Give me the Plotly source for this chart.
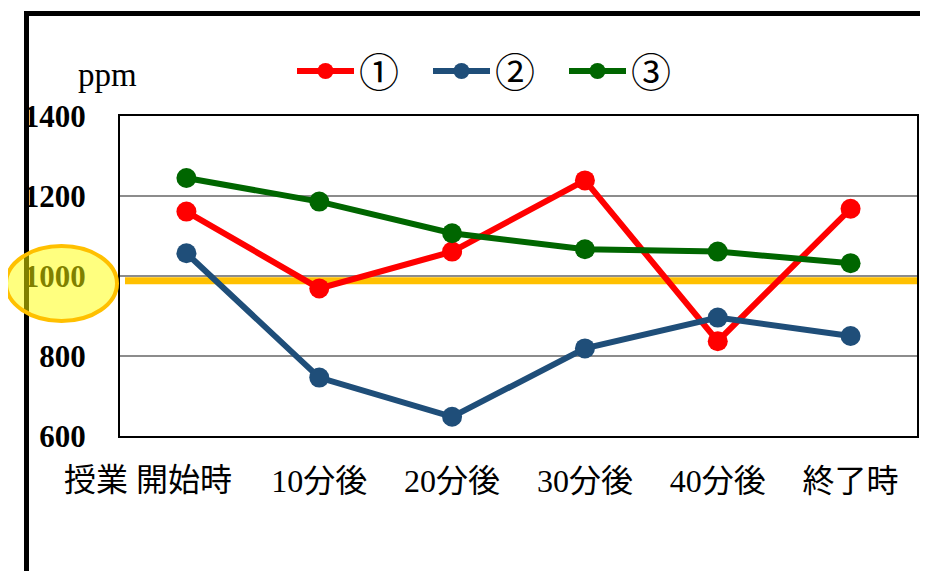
import plotly.graph_objects as go

categories = ["授業 開始時", "10分後", "20分後", "30分後", "40分後", "終了時"]
tick_labels = ["授業 開始時", "10分後", "20分後", "30分後", "40分後", "終了時"]
series_names = ["①", "②", "③"]
series1 = [1161, 969, 1061, 1239, 837, 1168]
series2 = [1057, 746, 648, 819, 896, 850]
series3 = [1245, 1186, 1107, 1067, 1061, 1032]
colors = ["#FF0000", "#1F4E79", "#006600"]
y_ticks = [600, 800, 1000, 1200, 1400]
threshold = 988

OFF = 8  # default page body margin
W, H = 928 - OFF, 571 - OFF
L, R, T, B = 120 - OFF, 11, 116 - OFF, 135
PW, PH = W - L - R, H - T - B

def px(xs):
    # screen x -> paper x
    return (xs - OFF - L) / PW

def py(ys):
    # screen y -> paper y
    return 1 - (ys - OFF - T) / PH

fig = go.Figure()
for name, vals, col in zip(series_names, [series1, series2, series3], colors):
    fig.add_trace(go.Scatter(
        x=categories, y=vals, name=name, mode="lines+markers",
        line=dict(color=col, width=6),
        marker=dict(color=col, size=20),
    ))

serif = "Liberation Serif, Noto Sans CJK JP"
xtick_font = dict(family=serif, size=32, color="black")
fig.update_layout(
    width=W, height=H,
    margin=dict(l=L, r=R, t=T, b=B, autoexpand=False),
    paper_bgcolor="white", plot_bgcolor="white",
    showlegend=True,
    legend=dict(orientation="h", x=px(292), y=py(71), xanchor="left", yanchor="middle",
                font=dict(family="Noto Sans CJK JP", size=40, color="black"),
                itemwidth=57, entrywidth=64, entrywidthmode="pixels",
                bgcolor="rgba(0,0,0,0)"),
    xaxis=dict(range=[-0.5, 5.5], tickvals=categories[1:], ticktext=tick_labels[1:],
               tickangle=0, automargin=False,
               showgrid=False, showline=True, linecolor="black",
               linewidth=2, mirror=True, ticks="", ticklabelstandoff=16,
               tickfont=xtick_font),
    yaxis=dict(range=[600, 1400], tickvals=y_ticks, showgrid=True, gridcolor="#8c8c8c",
               automargin=False,
               gridwidth=2, showline=True, linecolor="black", linewidth=2, mirror=True,
               ticks="", ticklabelstandoff=26, zeroline=False,
               tickfont=dict(family=serif, size=31, color="black", weight="bold")),
)

# first category label sits a little left of its category position
fig.add_annotation(text=tick_labels[0], xref="x", yref="paper", x=categories[0], y=py(480),
                   xanchor="center", yanchor="middle", xshift=-38, showarrow=False,
                   font=xtick_font)

shapes = [
    # threshold line
    dict(type="line", xref="paper", yref="y", x0=px(125), x1=1, y0=threshold, y1=threshold,
         line=dict(color="#FFC000", width=7), layer="between"),
    # outer frame lines
    dict(type="line", xref="paper", yref="paper", x0=px(24), x1=px(940), y0=py(13.5), y1=py(13.5),
         line=dict(color="black", width=5), layer="above"),
    dict(type="line", xref="paper", yref="paper", x0=px(26.5), x1=px(26.5), y0=py(11), y1=py(590),
         line=dict(color="black", width=5), layer="above"),
    # highlight ellipse
    dict(type="circle", xref="paper", yref="paper", x0=px(6), x1=px(117), y0=py(246), y1=py(321),
         fillcolor="rgba(255,255,0,0.5)", line=dict(color="#FFC000", width=4), layer="above"),
]
fig.update_layout(shapes=shapes)

fig.add_annotation(text="ppm", xref="paper", yref="paper", x=px(107), y=py(75),
                   xanchor="center", yanchor="middle", showarrow=False,
                   font=dict(family="Liberation Serif", size=33, color="black"))

fig.write_html("out.html")
